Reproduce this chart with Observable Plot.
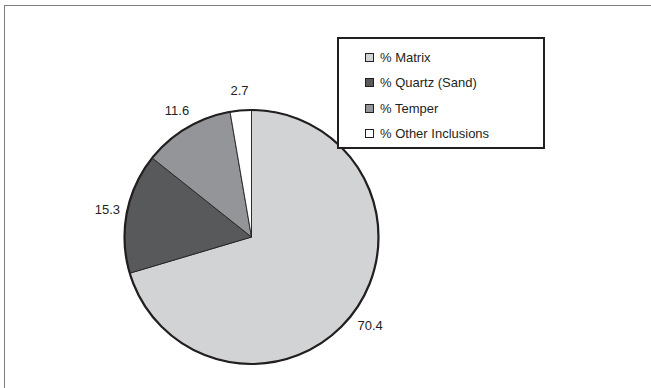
<!DOCTYPE html>
<html>
<head>
<meta charset="utf-8">
<script src="https://cdn.jsdelivr.net/npm/d3@7"></script>
<script src="https://cdn.jsdelivr.net/npm/@observablehq/plot@0.6"></script>
<style>
  body { margin: 0; background: #fff; font-family: "Liberation Sans", Arial, sans-serif; }
  #chart { position: relative; width: 651px; height: 388px; overflow: hidden; background: #fff; }
  #chart svg { position: absolute; left: 0; top: 0; }
  .frame { position: absolute; left: 4px; top: 5px; width: 800px; height: 600px;
           border-top: 1.5px solid #7d7d7d; border-left: 1.5px solid #7d7d7d; pointer-events: none; }
  .legend { position: absolute; left: 337px; top: 37px; width: 208px; height: 112px; box-sizing: border-box;
            border: 2px solid #231f20; background: #fff; }
  .legend .item { position: absolute; left: 26px; height: 16px; display: flex; align-items: center;
                  font-size: 13px; color: #231f20; white-space: nowrap; }
  .legend .sw { width: 9px; height: 9px; box-sizing: border-box; border: 1px solid #231f20; margin-right: 6px; }
</style>
</head>
<body>
<div id="chart"></div>
<script>
// Composition of the ceramic fabric (percent)
const categories = ["% Matrix", "% Quartz (Sand)", "% Temper", "% Other Inclusions"];
const values = [70.4, 15.3, 11.6, 2.7];
const fills = ["#d1d3d4", "#58595b", "#939598", "#ffffff"];

// Layout: pie centre and radius in pixels
const W = 651, H = 388, CX = 251.5, CY = 237, R = 127;

const data = categories.map((category, i) => ({category, value: values[i]}));
const color = Plot.scale({color: {type: "ordinal", domain: categories, range: fills}});

// Slices run clockwise from twelve o'clock, in data order
const arcs = d3.pie().sort(null).value(d => d.value)(data);
const labelRadius = 1.16;
const labelData = arcs.map(a => {
  const m = (a.startAngle + a.endAngle) / 2;
  return {x: labelRadius * Math.sin(m), y: labelRadius * Math.cos(m), text: a.data.value.toFixed(1)};
});

function pieSlices(index, scales) {
  const cx = scales.x(0), cy = scales.y(0);
  const r = scales.x(1) - scales.x(0);
  const arc = d3.arc().innerRadius(0).outerRadius(r);
  const g = d3.create("svg:g").attr("transform", `translate(${cx},${cy})`);
  g.selectAll("path").data(arcs).join("path")
    .attr("d", arc)
    .attr("fill", d => color.apply(d.data.category))
    .attr("stroke", "#231f20")
    .attr("stroke-width", 0.9)
    .attr("stroke-linejoin", "round");
  g.append("circle").attr("r", r).attr("fill", "none")
    .attr("stroke", "#231f20").attr("stroke-width", 2.2);
  return g.node();
}

const chart = Plot.plot({
  width: W,
  height: H,
  margin: 0,
  style: {background: "transparent", fontFamily: "'Liberation Sans', Arial, sans-serif"},
  x: {domain: [-CX / R, (W - CX) / R], axis: null},
  y: {domain: [-(H - CY) / R, CY / R], axis: null},
  marks: [
    pieSlices,
    Plot.text(labelData, {x: "x", y: "y", text: "text", fontSize: 13, fill: "#231f20", textAnchor: "middle"})
  ]
});

const root = document.getElementById("chart");
root.appendChild(chart);

const frame = document.createElement("div");
frame.className = "frame";
root.appendChild(frame);

// Legend, one row per category
const legend = document.createElement("div");
legend.className = "legend";
const rowTops = [10, 35, 61, 86];
categories.forEach((c, i) => {
  const item = document.createElement("div");
  item.className = "item";
  item.style.top = rowTops[i] + "px";
  const sw = document.createElement("span");
  sw.className = "sw";
  sw.style.background = color.apply(c);
  const t = document.createElement("span");
  t.textContent = c;
  item.appendChild(sw);
  item.appendChild(t);
  legend.appendChild(item);
});
root.appendChild(legend);
</script>
</body>
</html>
